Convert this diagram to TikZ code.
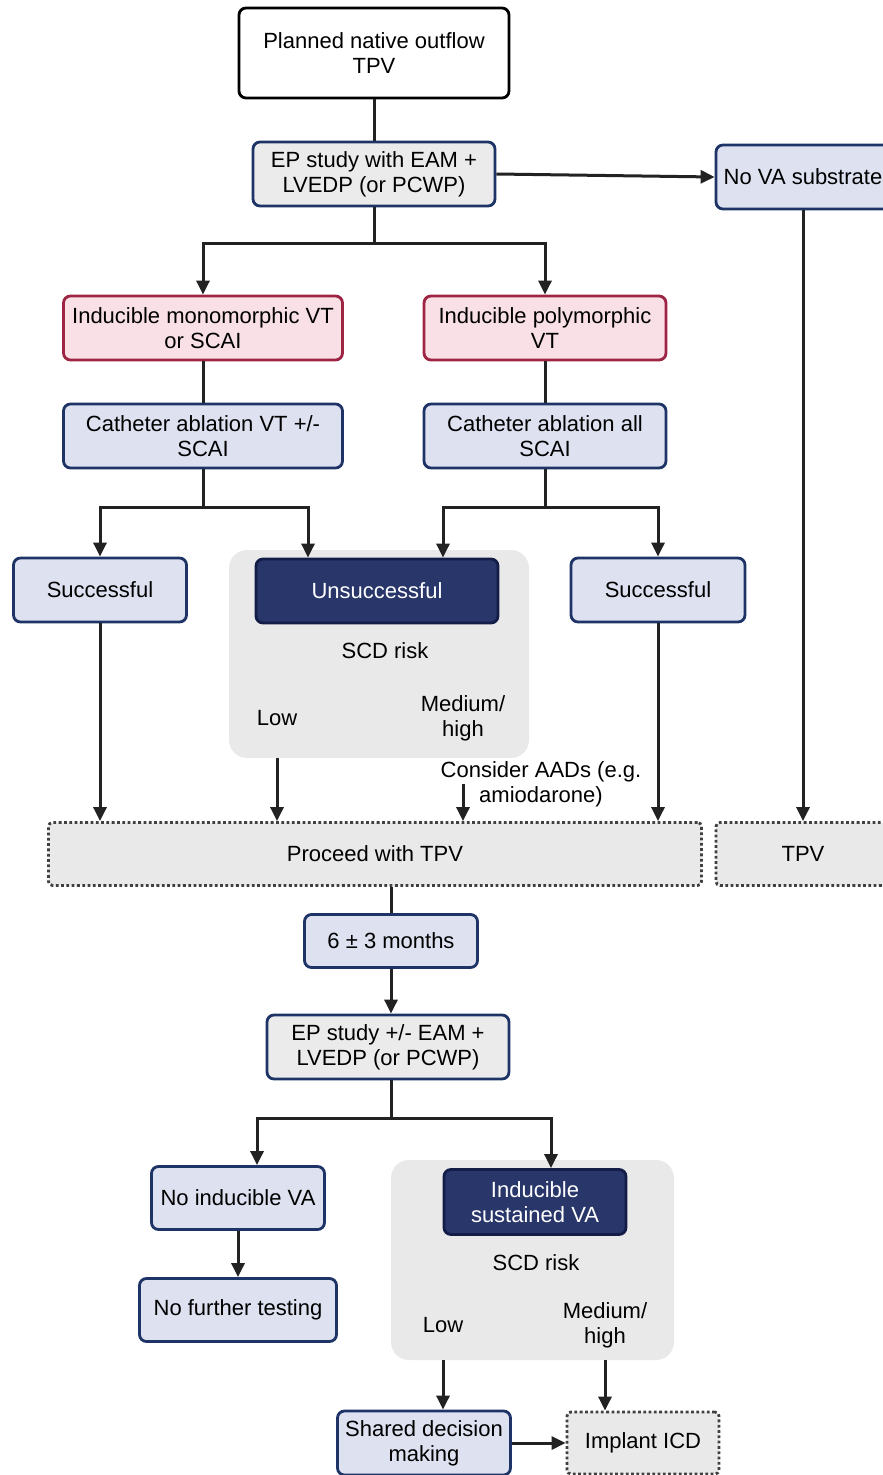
\documentclass[tikz,border=0pt]{standalone}
\usepackage{fontspec}
\setmainfont{Liberation Sans}
\usetikzlibrary{arrows.meta}

\definecolor{navyline}{HTML}{1E3466}
\definecolor{lavfill}{HTML}{DDE1F0}
\definecolor{greyfill}{HTML}{EBEBEB}
\definecolor{pinkfill}{HTML}{F9E0E6}
\definecolor{redline}{HTML}{9E2443}
\definecolor{darkfill}{HTML}{283669}
\definecolor{darkline}{HTML}{141D47}
\definecolor{panelgrey}{HTML}{E9E9E9}
\definecolor{arrowgrey}{HTML}{222222}

\tikzset{
    box/.style={draw, rounded corners=7pt, line width=2.8pt, align=center, inner sep=0pt, font=\fontsize{22}{25}\selectfont},
    bluebox/.style={box, draw=navyline, fill=lavfill},
    greybox/.style={box, draw=navyline, fill=greyfill},
    redbox/.style={box, draw=redline, fill=pinkfill},
    darkbox/.style={box, draw=darkline, fill=darkfill, text=white},
    dotbox/.style={box, draw=black!75, fill=panelgrey, rounded corners=4pt, dash pattern=on 2.8pt off 2.5pt},
    panel/.style={fill=panelgrey, rounded corners=18pt, inner sep=0pt},
    plain/.style={align=center, inner sep=0pt, font=\fontsize{22}{25}\selectfont},
    link/.style={line width=3pt, arrowgrey, >={Triangle[length=14pt, width=13pt]}}
}

\begin{document}
\begin{tikzpicture}[x=1pt, y=-1pt]
            \clip (0, 0) rectangle (883, 1475);

            \node[panel, minimum width=300, minimum height=208] (panelone) at (379, 654) {};
            \node[panel, minimum width=283, minimum height=200] (paneltwo) at (532.5, 1260) {};

            \node[box, fill=white, draw=black, minimum width=270, minimum height=90] (planned) at (374, 53) {Planned native outflow\\TPV};
            \node[greybox, minimum width=242, minimum height=64] (ep) at (374, 174) {EP study with EAM +\\LVEDP (or PCWP)};
            \node[bluebox, minimum width=174, minimum height=64] (novasub) at (803, 177) {No VA substrate};

            \node[redbox, minimum width=279, minimum height=64] (mono) at (203, 328) {Inducible monomorphic VT\\or SCAI};
            \node[redbox, minimum width=242, minimum height=64] (poly) at (545, 328) {Inducible polymorphic\\VT};
            \node[bluebox, minimum width=279, minimum height=64] (cathvt) at (203, 436) {Catheter ablation VT +/-\\SCAI};
            \node[bluebox, minimum width=242, minimum height=64] (cathall) at (545, 436) {Catheter ablation all\\SCAI};

            \node[bluebox, minimum width=173, minimum height=64] (succl) at (100, 590) {Successful};
            \node[darkbox, minimum width=242, minimum height=64] (unsucc) at (377, 591) {Unsuccessful};
            \node[bluebox, minimum width=174, minimum height=64] (succr) at (658, 590) {Successful};
            \node[plain] (scdone) at (385, 651) {SCD risk};
            \node[plain] (lowone) at (277, 718) {Low};
            \node[plain] (highone) at (463, 718) {Medium/\\high};
            \node[plain] (aads) at (541, 784) {Consider AADs (e.g.\\amiodarone)};

            \node[dotbox, minimum width=653, minimum height=63] (proceed) at (375, 854) {Proceed with TPV};
            \node[dotbox, minimum width=174, minimum height=63] (tpv) at (803, 854) {TPV};

            \node[bluebox, minimum width=173, minimum height=53] (months) at (391, 941) {6 ± 3 months};
            \node[greybox, minimum width=242, minimum height=64] (epagain) at (388, 1047) {EP study +/- EAM +\\LVEDP (or PCWP)};

            \node[bluebox, minimum width=173, minimum height=63] (noind) at (238, 1198) {No inducible VA};
            \node[bluebox, minimum width=197, minimum height=63] (nofurther) at (238, 1310) {No further testing};
            \node[darkbox, minimum width=182, minimum height=65] (indsus) at (535, 1202) {Inducible\\sustained VA};
            \node[plain] (scdtwo) at (536, 1263) {SCD risk};
            \node[plain] (lowtwo) at (443, 1325) {Low};
            \node[plain] (hightwo) at (605, 1325) {Medium/\\high};
            \node[bluebox, minimum width=173, minimum height=64] (shared) at (424, 1443) {Shared decision\\making};
            \node[dotbox, minimum width=152, minimum height=62] (implant) at (643, 1443) {Implant ICD};

            \coordinate (splitone) at (374, 243);
            \coordinate (splittwo) at (203, 507);
            \coordinate (splitthree) at (545, 507);
            \coordinate (splitfour) at (391, 1118);

            \draw[link] (planned) -- (ep);
            \draw[link,->] (ep.east) -- (novasub.west);
            \draw[link] (ep) -- (splitone);
            \draw[link,->] (splitone) -| (mono);
            \draw[link,->] (splitone) -| (poly);

            \draw[link] (mono) -- (cathvt);
            \draw[link] (poly) -- (cathall);
            \draw[link] (cathvt) -- (splittwo);
            \draw[link,->] (splittwo) -| (succl);
            \draw[link,->] (splittwo) -| ([xshift=-69pt]unsucc.north);
            \draw[link] (cathall) -- (splitthree);
            \draw[link,->] (splitthree) -| ([xshift=66pt]unsucc.north);
            \draw[link,->] (splitthree) -| (succr);

            \draw[link,->] (succl) -- (succl |- proceed.north);
            \draw[link,->] (lowone |- panelone.south) -- (lowone |- proceed.north);
            \draw[link,->] (highone |- aads) -- (highone |- proceed.north);
            \draw[link,->] (succr) -- (succr |- proceed.north);
            \draw[link,->] (novasub) -- (tpv);

            \draw[link] (months |- proceed.south) -- (months);
            \draw[link,->] (months) -- (months |- epagain.north);
            \draw[link] (months |- epagain.south) -- (splitfour);
            \draw[link,->] (splitfour) -| ([xshift=19pt]noind.north);
            \draw[link,->] (splitfour) -| ([xshift=16pt]indsus.north);

            \draw[link,->] (noind) -- (nofurther);
            \draw[link,->] (lowtwo |- paneltwo.south) -- (lowtwo |- shared.north);
            \draw[link,->] (hightwo |- paneltwo.south) -- (hightwo |- implant.north);
            \draw[link,->] (shared) -- (implant);
\end{tikzpicture}
\end{document}
